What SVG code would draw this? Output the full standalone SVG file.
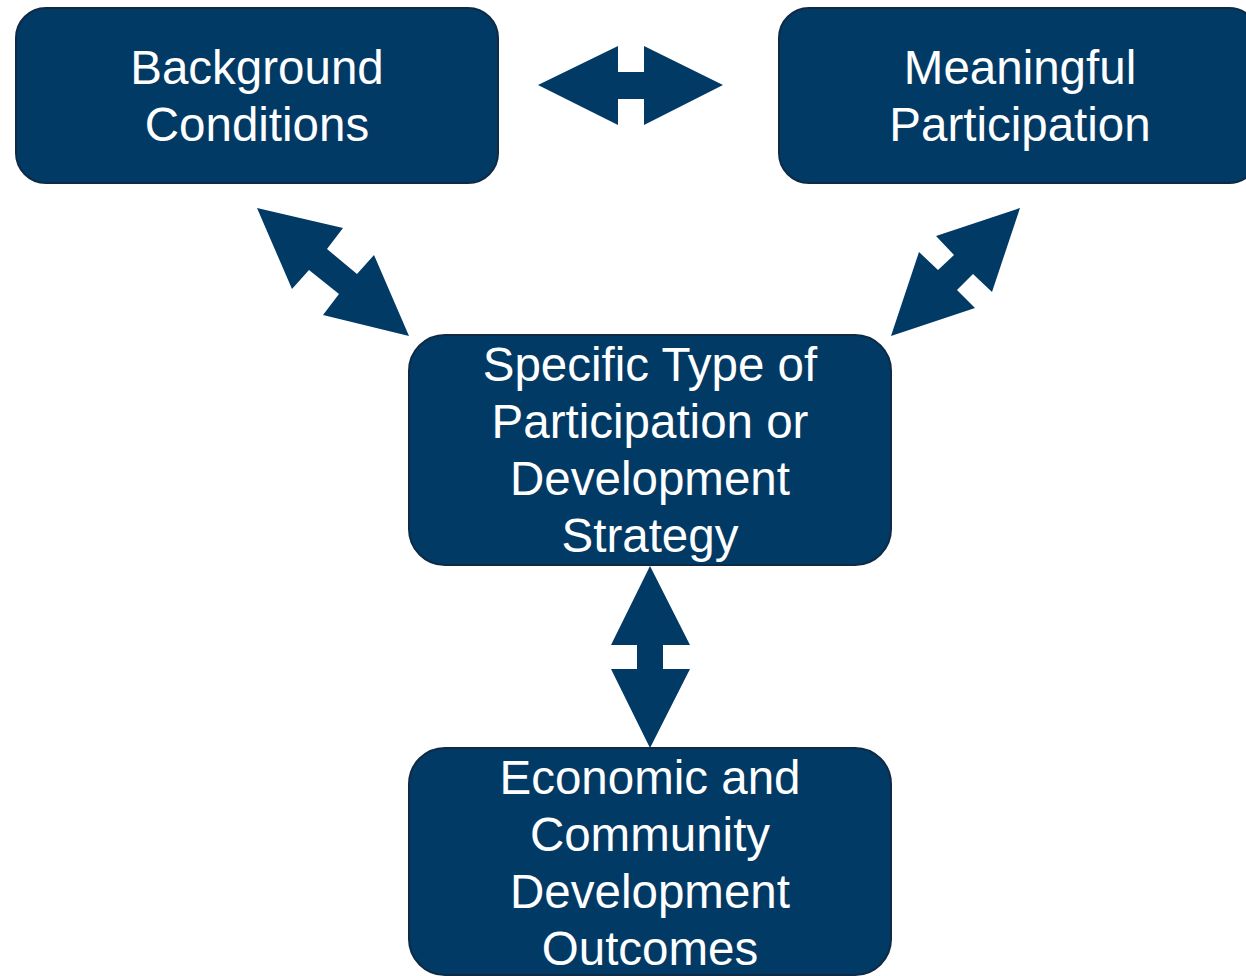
<svg xmlns="http://www.w3.org/2000/svg" width="1246" height="976" viewBox="0 0 1246 976">
<style>
.box{fill:#023a66;stroke:#0e2a45;stroke-width:2}
.arrow{fill:#023a66}
.lbl{font-family:"Liberation Sans",Arial,sans-serif;font-size:47.5px;fill:#ffffff;text-anchor:middle}
</style>
<rect width="1246" height="976" fill="#ffffff"/>
<g id="connectors">
<polygon class="arrow" points="538,85 618,46 618,72 644,72 644,46 723,85 644,125 644,99 618,99 618,125"/>
<polygon class="arrow" points="650,566 690,645 663,645 663,669 690,669 650,748 611,669 637,669 637,645 611,645"/>
<polygon class="arrow" points="257,208 343,228 327,249 357,274 374,255 409,336 323,315 339,294 309,270 292,289"/>
<polygon class="arrow" points="1020,208 992,292 973,274 957,290 975,308 891,336 919,252 938,270 954,255 936,236"/>
</g>
<g id="node-background">
<rect class="box" x="16" y="8" width="482" height="175" rx="30"/>
<text class="lbl" x="257" y="83.5">Background</text>
<text class="lbl" x="257" y="140.5">Conditions</text>
</g>
<g id="node-meaningful">
<rect class="box" x="779" y="8" width="480" height="175" rx="30"/>
<text class="lbl" x="1020" y="83.5">Meaningful</text>
<text class="lbl" x="1020" y="140.5">Participation</text>
</g>
<g id="node-specific">
<rect class="box" x="409" y="335" width="482" height="230" rx="36"/>
<text class="lbl" x="650" y="381">Specific Type of</text>
<text class="lbl" x="650" y="438">Participation or</text>
<text class="lbl" x="650" y="495">Development</text>
<text class="lbl" x="650" y="552">Strategy</text>
</g>
<g id="node-outcomes">
<rect class="box" x="409" y="748" width="482" height="227" rx="36"/>
<text class="lbl" x="650" y="794">Economic and</text>
<text class="lbl" x="650" y="851">Community</text>
<text class="lbl" x="650" y="908">Development</text>
<text class="lbl" x="650" y="965">Outcomes</text>
</g>
</svg>
